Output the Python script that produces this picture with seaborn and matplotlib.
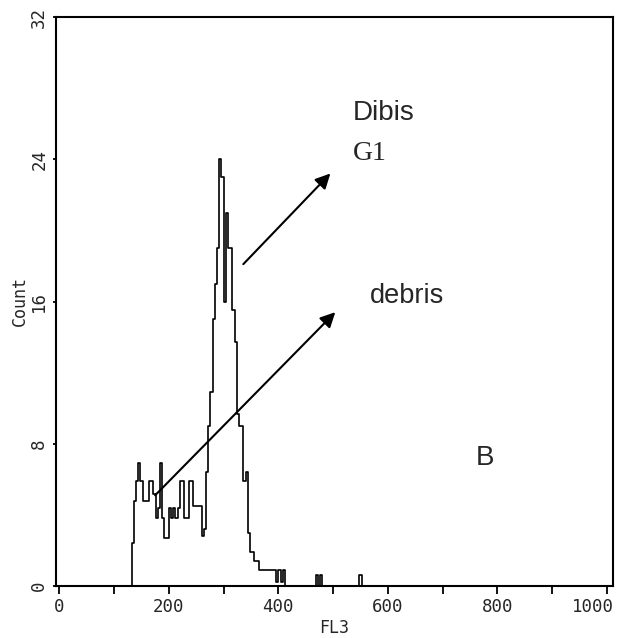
"""
FL3 histogram (flow cytometry, panel B) with annotated peaks
"""
import numpy as np
import pandas as pd
import seaborn as sns
import matplotlib
matplotlib.use("Agg")
import matplotlib.pyplot as plt
from matplotlib.transforms import ScaledTranslation

# ========== data ==========
bin_width = 4
first_edge = 128
counts = [0.0, 2.4, 4.8, 5.9, 6.9, 5.9, 4.8, 4.8, 4.8, 5.9, 5.9,
          5.2, 3.8, 4.4, 6.9, 3.8, 2.7, 2.7, 4.4, 3.8, 4.4,
          3.8, 4.4, 5.9, 5.9, 3.8, 3.8, 5.9, 5.9, 4.5, 4.5,
          4.5, 4.5, 2.8, 3.2, 6.4, 9.0, 10.9, 15.0, 17.0, 19.0,
          24.0, 23.0, 16.0, 21.0, 19.0, 19.0, 15.5, 13.7, 9.7, 9.0,
          9.0, 5.9, 6.4, 3.0, 1.9, 1.9, 1.4, 1.4, 0.9, 0.9,
          0.9, 0.9, 0.9, 0.9, 0.9, 0.9, 0.2, 0.9, 0.2, 0.9, 0.0]
# isolated events further right
spike_edges = [468, 472, 476, 480, 548, 552, 556]
spike_counts = [0.6, 0.0, 0.6, 0.0, 0.6, 0.0]

x_ticks = [0, 200, 400, 600, 800, 1000]
x_minor = [100, 300, 500, 700, 900]
y_ticks = [0, 8, 16, 24, 32]

# arrows: (start, end) in data coords
arrow_g1 = ((336, 18.1), (495, 23.2))
arrow_debris = ((175, 5.1), (504, 15.4))

# ========== build histogram table ==========
main_edges = [first_edge + bin_width * i for i in range(len(counts) + 1)]
edges = main_edges + spike_edges
weights = counts + [0.0] + spike_counts   # gap bin between main body and spikes
centers = [(edges[i] + edges[i + 1]) / 2 for i in range(len(edges) - 1)]
df = pd.DataFrame({"FL3": centers, "Count": weights})

# ========== plot ==========
sns.set_style("white")
plt.rcParams["font.family"] = ["DejaVu Sans Mono", "DejaVu Sans"]

fig = plt.figure(figsize=(6.23, 6.38), dpi=100)
ax = fig.add_axes([56 / 623, 52 / 638, 557 / 623, 569 / 638])

sns.histplot(data=df, x="FL3", weights="Count", bins=edges,
             element="step", fill=False, color="black", linewidth=1.2, ax=ax)

ax.set_xlim(-6, 1011)
ax.set_ylim(0, 32)

ax.set_xticks(x_ticks)
ax.set_xticks(x_minor, minor=True)
ax.set_yticks(y_ticks)
ax.set_xticklabels([str(t) for t in x_ticks], fontsize=12.5)
ax.set_yticklabels([str(t) for t in y_ticks], fontsize=12.5, rotation=90, va="center")
ax.tick_params(axis="x", which="both", bottom=True, direction="out", length=6,
               width=1.3, color="black", pad=3)
ax.tick_params(axis="y", which="both", left=True, direction="out", length=2.5,
               width=1.3, color="black", pad=3)

# last x label sits left of its tick, as in the original
last = ax.get_xticklabels()[-1]
last.set_transform(last.get_transform() + ScaledTranslation(-14 / 100, 0, fig.dpi_scale_trans))

ax.set_xlabel("FL3", fontsize=12, labelpad=2)
ax.set_ylabel("Count", fontsize=12, labelpad=1)

for s in ax.spines.values():
    s.set_visible(True)
    s.set_color("black")
    s.set_linewidth(1.5)

arrow_props = dict(arrowstyle="-|>,head_length=0.9,head_width=0.45",
                   color="black", lw=1.5, shrinkA=0, shrinkB=0)
ax.annotate("", xy=arrow_g1[1], xytext=arrow_g1[0], arrowprops=arrow_props)
ax.annotate("", xy=arrow_debris[1], xytext=arrow_debris[0], arrowprops=arrow_props)

ax.text(536, 26.6, "Dibis", fontsize=20, family="Liberation Sans", va="center", ha="left")
ax.text(536, 24.3, "G1", fontsize=20, family="Liberation Serif", va="center", ha="left")
ax.text(567, 16.3, "debris", fontsize=19.5, family="Liberation Sans", va="center", ha="left")
ax.text(760, 7.2, "B", fontsize=20, family="Liberation Sans", va="center", ha="left")

fig.savefig("out.png", dpi=100)
